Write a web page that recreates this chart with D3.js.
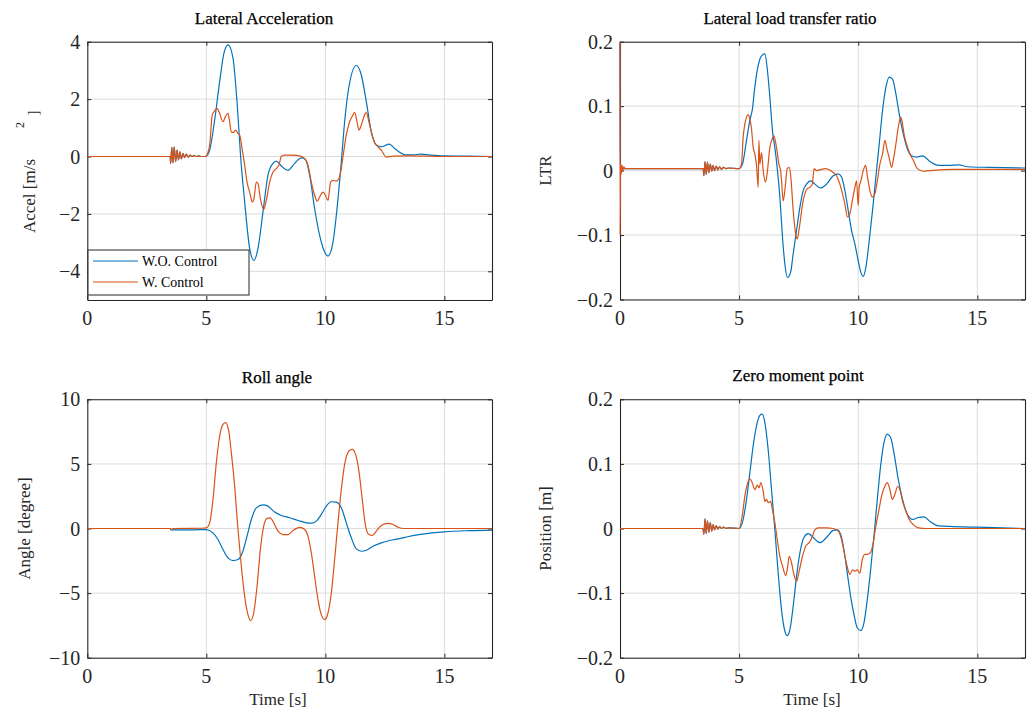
<!DOCTYPE html>
<html>
<head>
<meta charset="utf-8">
<script src="https://cdn.jsdelivr.net/npm/d3@7"></script>
<style>
  html, body { margin: 0; padding: 0; background: #fff; }
  svg { display: block; }
</style>
</head>
<body>
<svg id="chart" width="1034" height="716"></svg>
<script>
// ---------------- DATA (time [s], value) ----------------
const seriesNames = ["W.O. Control", "W. Control"];
const xTicks = [0, 5, 10, 15];
const accelTicks = [-4, -2, 0, 2, 4];
const ltrTicks = [-0.2, -0.1, 0, 0.1, 0.2];
const rollTicks = [-10, -5, 0, 5, 10];
const zmpTicks = [-0.2, -0.1, 0, 0.1, 0.2];

// small start-up oscillation around t = 3.5 s
const accelOsc = [[3.48,0],[3.50,-0.25],[3.55,0.32],[3.60,-0.22],[3.65,0.34],[3.71,-0.18],[3.77,0.22],[3.83,-0.12],[3.89,0.16],[3.95,-0.08],[4.02,0.11],[4.09,-0.04],[4.16,0.08],[4.24,-0.02],[4.32,0.05],[4.40,0.0],[4.48,0.03],[4.58,0.0],[4.68,0.02],[4.80,0.0]];
const ltrOsc = [[3.49,0.003],[3.52,-0.008],[3.57,0.014],[3.62,-0.006],[3.67,0.013],[3.73,-0.003],[3.79,0.010],[3.85,-0.001],[3.91,0.008],[3.97,0.0],[4.04,0.007],[4.11,0.001],[4.18,0.006],[4.26,0.002],[4.34,0.005],[4.45,0.003],[4.55,0.004]];
const zmpOsc = [[3.48,0],[3.52,-0.009],[3.57,0.015],[3.62,-0.008],[3.67,0.012],[3.73,-0.006],[3.79,0.009],[3.85,-0.004],[3.91,0.006],[3.97,-0.002],[4.04,0.004],[4.11,-0.001],[4.18,0.003],[4.26,0.0],[4.34,0.002],[4.45,0.0],[4.55,0.001]];

const accelWO = [[0,0],...accelOsc,[4.95,0],[5.0,0.01],[5.14,0.22],[5.35,1.27],[5.56,2.61],[5.74,3.6],[5.91,3.89],[6.12,3.43],[6.29,1.9],[6.44,0],[6.61,-1.58],[6.82,-3.2],[7.0,-3.62],[7.17,-3.2],[7.38,-1.93],[7.59,-0.65],[7.8,-0.24],[7.94,-0.16],[8.15,-0.33],[8.43,-0.48],[8.71,-0.24],[8.99,-0.05],[9.16,-0.1],[9.34,-0.65],[9.55,-1.82],[9.76,-2.75],[9.93,-3.25],[10.11,-3.47],[10.32,-2.98],[10.49,-1.82],[10.67,-0.19],[10.81,1.21],[10.98,2.38],[11.3,3.17],[11.51,2.84],[11.72,1.91],[11.93,0.86],[12.14,0.4],[12.35,0.34],[12.68,0.43],[12.91,0.28],[13.1,0.16],[13.35,0.06],[13.7,0.06],[14.0,0.08],[14.4,0.05],[15,0.02],[16,0.01],[17,0.0]];
const accelW = [[0,0],...accelOsc,[4.97,0],[5.05,0.1],[5.14,0.4],[5.25,1.45],[5.35,1.59],[5.45,1.68],[5.56,1.5],[5.7,1.21],[5.8,1.39],[5.91,1.5],[5.98,1.21],[6.05,0.84],[6.15,0.84],[6.23,0.92],[6.33,0.8],[6.4,0.75],[6.5,0.28],[6.61,-0.3],[6.71,-0.89],[6.82,-1.24],[6.93,-1.59],[7.0,-1.47],[7.1,-0.89],[7.17,-0.94],[7.27,-1.47],[7.41,-1.85],[7.52,-1.53],[7.66,-0.89],[7.8,-0.54],[7.94,-0.42],[8.05,-0.3],[8.15,0],[8.29,0.05],[8.64,0.05],[8.92,0.02],[9.13,-0.07],[9.27,-0.3],[9.41,-0.89],[9.55,-1.35],[9.66,-1.56],[9.76,-1.41],[9.9,-1.24],[10.0,-1.35],[10.11,-1.53],[10.22,-0.89],[10.32,-0.83],[10.46,-0.86],[10.57,-0.77],[10.67,-0.42],[10.77,0.16],[10.88,0.75],[11.02,1.21],[11.16,1.45],[11.23,1.54],[11.33,1.21],[11.41,0.92],[11.51,1.1],[11.65,1.45],[11.72,1.53],[11.83,1.21],[11.93,0.86],[12.07,0.49],[12.21,0.34],[12.35,0.22],[12.56,-0.02],[12.84,0.01],[13.5,0.02],[15,0.0],[17,0]];

const ltrWO = [[0,0.2],[0.008,0.003],...ltrOsc,[5.0,0.003],[5.14,0.01],[5.31,0.047],[5.45,0.078],[5.56,0.096],[5.66,0.13],[5.8,0.163],[5.94,0.178],[6.08,0.181],[6.19,0.155],[6.29,0.114],[6.4,0.062],[6.5,0.036],[6.61,0],[6.71,-0.041],[6.82,-0.103],[6.92,-0.145],[7.03,-0.166],[7.16,-0.158],[7.27,-0.129],[7.41,-0.093],[7.55,-0.057],[7.69,-0.031],[7.83,-0.021],[8.0,-0.016],[8.18,-0.021],[8.42,-0.027],[8.67,-0.021],[8.95,-0.008],[9.16,-0.005],[9.3,-0.01],[9.44,-0.031],[9.58,-0.062],[9.72,-0.093],[9.86,-0.114],[10.0,-0.14],[10.11,-0.158],[10.21,-0.164],[10.32,-0.15],[10.46,-0.109],[10.6,-0.062],[10.74,-0.01],[10.88,0.041],[11.02,0.093],[11.16,0.129],[11.3,0.145],[11.44,0.142],[11.58,0.119],[11.72,0.088],[11.89,0.057],[12.06,0.034],[12.24,0.023],[12.45,0.021],[12.7,0.023],[13.01,0.014],[13.36,0.008],[13.8,0.008],[14.2,0.009],[14.6,0.006],[15.5,0.005],[17,0.004]];
const ltrW = [[0,0.2],[0.004,-0.1],[0.02,0.01],[0.05,-0.006],[0.08,0.009],[0.12,0.0],[0.16,0.006],[0.22,0.003],...ltrOsc,[5.0,0.003],[5.1,0.01],[5.17,0.052],[5.24,0.072],[5.31,0.083],[5.38,0.087],[5.45,0.08],[5.52,0.065],[5.59,0.036],[5.66,0.026],[5.73,0.008],[5.8,-0.026],[5.83,0.047],[5.87,0.01],[5.94,0.028],[6.01,0],[6.11,-0.018],[6.19,0],[6.29,0.036],[6.39,0.049],[6.46,0.054],[6.57,0.036],[6.67,0.01],[6.74,0],[6.78,-0.016],[6.85,-0.047],[6.92,-0.031],[7.02,0.003],[7.1,0.005],[7.17,-0.01],[7.27,-0.062],[7.37,-0.098],[7.44,-0.106],[7.51,-0.093],[7.59,-0.072],[7.66,-0.052],[7.76,-0.036],[7.86,-0.028],[7.97,-0.026],[8.07,-0.021],[8.15,0.003],[8.25,0],[8.39,0.001],[8.6,0.003],[8.74,0.002],[8.95,-0.003],[9.09,-0.008],[9.23,-0.021],[9.34,-0.036],[9.44,-0.052],[9.55,-0.072],[9.65,-0.067],[9.75,-0.047],[9.86,-0.026],[9.93,-0.016],[10.0,-0.054],[10.04,-0.026],[10.11,-0.016],[10.21,0],[10.31,0.008],[10.39,-0.01],[10.49,-0.031],[10.59,-0.041],[10.7,-0.036],[10.8,-0.016],[10.91,0.01],[11.02,0.026],[11.12,0.047],[11.19,0.036],[11.29,0.021],[11.4,0.005],[11.47,0.016],[11.58,0.041],[11.68,0.067],[11.78,0.083],[11.85,0.075],[11.92,0.057],[12.03,0.041],[12.17,0.026],[12.31,0.016],[12.48,0.003],[12.73,-0.001],[13.01,0],[14,0.002],[17,0.002]];

const rollWO = [[0,0],[3.48,0],[3.52,-0.1],[4.5,-0.1],[5.0,-0.08],[5.28,-0.34],[5.49,-0.85],[5.7,-1.63],[5.91,-2.27],[6.12,-2.48],[6.33,-2.4],[6.51,-1.89],[6.71,-0.59],[6.89,0.7],[7.1,1.6],[7.38,1.83],[7.59,1.73],[7.87,1.27],[8.15,1.01],[8.5,0.83],[8.85,0.62],[9.2,0.44],[9.41,0.41],[9.62,0.57],[9.83,1.09],[10.04,1.73],[10.25,2.07],[10.46,2.04],[10.67,1.6],[10.88,0.44],[11.09,-0.72],[11.3,-1.58],[11.51,-1.76],[11.72,-1.68],[12.0,-1.37],[12.35,-1.11],[12.7,-0.93],[13.12,-0.78],[13.5,-0.62],[14,-0.46],[14.5,-0.34],[15,-0.26],[16,-0.17],[17,-0.12]];
const rollW = [[0,0],[3.48,0],[3.52,-0.1],[3.6,0.0],[4.8,0.02],[5.0,0.05],[5.14,0.44],[5.28,2.25],[5.42,5.09],[5.56,7.16],[5.7,8.06],[5.81,8.19],[5.94,7.55],[6.05,5.87],[6.19,3.28],[6.33,-0.08],[6.47,-2.92],[6.61,-5.25],[6.75,-6.67],[6.86,-7.13],[6.99,-6.54],[7.13,-4.47],[7.27,-1.63],[7.41,0.18],[7.55,0.78],[7.69,0.83],[7.83,0.44],[8.01,-0.21],[8.22,-0.47],[8.43,-0.47],[8.64,-0.16],[8.92,0.08],[9.13,-0.08],[9.27,-0.59],[9.41,-1.89],[9.55,-3.7],[9.69,-5.5],[9.83,-6.67],[9.97,-7.05],[10.11,-6.54],[10.25,-4.99],[10.39,-2.4],[10.53,0.44],[10.67,3.02],[10.81,4.96],[10.99,6.0],[11.13,6.12],[11.27,5.74],[11.41,4.44],[11.55,2.25],[11.69,0.18],[11.83,-0.47],[11.97,-0.54],[12.14,-0.21],[12.35,0.23],[12.63,0.39],[12.84,0.31],[13.05,0.1],[13.3,0.0],[17,0]];

const zmpWO = [[0,0],...zmpOsc,[5.0,0],[5.17,0.014],[5.31,0.045],[5.45,0.086],[5.59,0.128],[5.73,0.159],[5.87,0.175],[5.97,0.177],[6.08,0.164],[6.22,0.122],[6.36,0.06],[6.5,-0.002],[6.64,-0.069],[6.78,-0.126],[6.92,-0.159],[7.02,-0.166],[7.13,-0.157],[7.27,-0.12],[7.41,-0.074],[7.55,-0.038],[7.72,-0.014],[7.9,-0.008],[8.11,-0.014],[8.39,-0.022],[8.67,-0.014],[8.95,-0.003],[9.12,-0.002],[9.26,-0.009],[9.4,-0.033],[9.54,-0.069],[9.68,-0.105],[9.82,-0.133],[9.96,-0.154],[10.11,-0.158],[10.24,-0.146],[10.38,-0.11],[10.52,-0.064],[10.66,-0.012],[10.8,0.045],[10.94,0.097],[11.08,0.133],[11.22,0.146],[11.36,0.141],[11.5,0.117],[11.68,0.076],[11.86,0.045],[12.06,0.022],[12.28,0.014],[12.52,0.017],[12.76,0.018],[13.01,0.011],[13.36,0.004],[14.0,0.003],[15,0.002],[17,0]];
const zmpW = [[0,0],...zmpOsc,[5.0,0],[5.14,0.022],[5.24,0.05],[5.34,0.068],[5.45,0.077],[5.55,0.071],[5.66,0.06],[5.76,0.067],[5.84,0.063],[5.91,0.071],[6.01,0.058],[6.08,0.042],[6.15,0.045],[6.22,0.04],[6.32,0.042],[6.4,0.029],[6.5,0.009],[6.6,-0.017],[6.71,-0.043],[6.82,-0.058],[6.96,-0.073],[7.03,-0.061],[7.1,-0.043],[7.2,-0.053],[7.3,-0.071],[7.41,-0.082],[7.52,-0.066],[7.66,-0.043],[7.8,-0.027],[7.94,-0.022],[8.08,-0.012],[8.18,-0.002],[8.32,0.001],[8.67,0.001],[8.95,0],[9.16,-0.004],[9.3,-0.017],[9.44,-0.043],[9.55,-0.061],[9.65,-0.071],[9.76,-0.064],[9.86,-0.066],[9.96,-0.064],[10.07,-0.069],[10.17,-0.048],[10.28,-0.04],[10.39,-0.04],[10.52,-0.037],[10.63,-0.022],[10.74,0.004],[10.87,0.029],[10.98,0.05],[11.09,0.063],[11.22,0.071],[11.33,0.06],[11.43,0.045],[11.54,0.053],[11.65,0.065],[11.75,0.06],[11.86,0.042],[12.0,0.027],[12.14,0.014],[12.31,0.006],[12.52,0.001],[12.87,0],[17,0]];

// ---------------- DRAWING ----------------
const colors = ["#0072BD", "#D95319"];
const svg = d3.select("#chart");
const FONT = "'Liberation Serif', 'Times New Roman', serif";

const panels = [
  { title: "Lateral Acceleration", titleX: 264, titleY: 24, x0: 87.3, x1: 492, y0: 41.7, y1: 300,
    yDomain: [-5, 4], yTicks: accelTicks, data: [accelWO, accelW], xlabel: null, legend: true },
  { title: "Lateral load transfer ratio", titleX: 790, titleY: 24, x0: 620, x1: 1025, y0: 41.7, y1: 299.5,
    yDomain: [-0.2, 0.2], yTicks: ltrTicks, data: [ltrWO, ltrW], ylabel: "LTR", ylabelX: 551, xlabel: null },
  { title: "Roll angle", titleX: 277, titleY: 383, x0: 87.3, x1: 492, y0: 399.3, y1: 657.7,
    yDomain: [-10, 10], yTicks: rollTicks, data: [rollWO, rollW], ylabel: "Angle [degree]", ylabelX: 30, xlabel: "Time [s]", xlabelX: 278 },
  { title: "Zero moment point", titleX: 798, titleY: 381, x0: 620, x1: 1025, y0: 399.3, y1: 657.7,
    yDomain: [-0.2, 0.2], yTicks: zmpTicks, data: [zmpWO, zmpW], ylabel: "Position [m]", ylabelX: 551, xlabel: "Time [s]", xlabelX: 812 }
];

const fmt = d => d < 0 ? "\u2212" + Math.abs(d) : String(d);

panels.forEach((p, pi) => {
  const x = d3.scaleLinear().domain([0, 17]).range([p.x0, p.x1]);
  const y = d3.scaleLinear().domain(p.yDomain).range([p.y1, p.y0]);
  const g = svg.append("g");
  const clipId = "clip" + pi;
  svg.append("clipPath").attr("id", clipId).append("rect")
    .attr("x", p.x0 - 1.5).attr("y", p.y0 - 1.5).attr("width", p.x1 - p.x0 + 3).attr("height", p.y1 - p.y0 + 3);

  // grid
  const grid = g.append("g");
  grid.selectAll(".gx").data(xTicks.filter(t => t > 0)).enter().append("line")
    .attr("x1", d => x(d)).attr("x2", d => x(d)).attr("y1", p.y0).attr("y2", p.y1)
    .attr("stroke", "#dcdcdc").attr("stroke-width", 1);
  grid.selectAll(".gy").data(p.yTicks).enter().append("line")
    .attr("x1", p.x0).attr("x2", p.x1).attr("y1", d => y(d)).attr("y2", d => y(d))
    .attr("stroke", "#dcdcdc").attr("stroke-width", 1);

  // axes with inward ticks on all four sides
  const axB = d3.axisBottom(x).tickValues(xTicks).tickSizeInner(-4).tickSizeOuter(0).tickFormat("");
  const axT = d3.axisTop(x).tickValues(xTicks).tickSizeInner(-4).tickSizeOuter(0).tickFormat("");
  const axL = d3.axisLeft(y).tickValues(p.yTicks).tickSizeInner(-4).tickSizeOuter(0).tickFormat("");
  const axR = d3.axisRight(y).tickValues(p.yTicks).tickSizeInner(-4).tickSizeOuter(0).tickFormat("");
  [[axB, `translate(0,${p.y1})`], [axT, `translate(0,${p.y0})`], [axL, `translate(${p.x0},0)`], [axR, `translate(${p.x1},0)`]]
    .forEach(([ax, tr]) => {
      const a = g.append("g").attr("transform", tr).call(ax);
      a.selectAll("path").attr("stroke", "#262626").attr("stroke-width", 1.1);
      a.selectAll("line").attr("stroke", "#262626").attr("stroke-width", 1);
    });

  // lines (drawn over the axes, as in the reference)
  const line = d3.line().x(d => x(d[0])).y(d => y(d[1])).curve(d3.curveMonotoneX);
  const lg = g.append("g").attr("clip-path", `url(#${clipId})`);
  p.data.forEach((s, i) => {
    lg.append("path").datum(s).attr("d", line).attr("fill", "none")
      .attr("stroke", colors[i]).attr("stroke-width", 1.2).attr("stroke-linejoin", "round");
  });

  // tick labels
  g.selectAll(".xtl").data(xTicks).enter().append("text")
    .attr("x", d => x(d)).attr("y", p.y1 + 25).attr("text-anchor", "middle")
    .attr("font-family", FONT).attr("font-size", 20).attr("fill", "#262626").text(fmt);
  g.selectAll(".ytl").data(p.yTicks).enter().append("text")
    .attr("x", p.x0 - 7).attr("y", d => y(d)).attr("dy", "0.35em").attr("text-anchor", "end")
    .attr("font-family", FONT).attr("font-size", 20).attr("fill", "#262626").text(fmt);

  // title
  g.append("text").attr("x", p.titleX).attr("y", p.titleY).attr("text-anchor", "middle")
    .attr("font-family", FONT).attr("font-size", 17).attr("fill", "#000")
    .attr("stroke", "#000").attr("stroke-width", 0.25).text(p.title);

  // y label
  if (p.ylabel) {
    const cy = (p.y0 + p.y1) / 2;
    g.append("text").attr("transform", `translate(${p.ylabelX},${cy}) rotate(-90)`)
      .attr("text-anchor", "middle").attr("font-family", FONT).attr("font-size", 17)
      .attr("fill", "#262626").text(p.ylabel);
  }
  if (p.xlabel) {
    g.append("text").attr("x", p.xlabelX).attr("y", p.y1 + 47).attr("text-anchor", "middle")
      .attr("font-family", FONT).attr("font-size", 17).attr("fill", "#262626").text(p.xlabel);
  }

  if (p.legend) {
    const L = g.append("g");
    L.append("rect").attr("x", 88).attr("y", 250).attr("width", 161).attr("height", 45)
      .attr("fill", "#fff").attr("stroke", "#262626").attr("stroke-width", 1);
    seriesNames.forEach((n, i) => {
      const ly = 261 + i * 21;
      L.append("line").attr("x1", 93).attr("x2", 138).attr("y1", ly).attr("y2", ly)
        .attr("stroke", colors[i]).attr("stroke-width", 1.2);
      L.append("text").attr("x", 142).attr("y", ly).attr("dy", "0.35em")
        .attr("font-family", FONT).attr("font-size", 14).attr("fill", "#000").text(n);
    });
  }
});

// Accel y-label with the (mis-rendered) superscript as in the reference
svg.append("text").attr("transform", "translate(35,196) rotate(-90)")
  .attr("text-anchor", "middle").attr("font-family", FONT).attr("font-size", 17)
  .attr("fill", "#262626").text("Accel [m/s");
svg.append("text").attr("transform", "translate(24,125) rotate(-90)")
  .attr("text-anchor", "middle").attr("font-family", FONT).attr("font-size", 12)
  .attr("fill", "#262626").text("2");
svg.append("text").attr("transform", "translate(38,113) rotate(-90)")
  .attr("text-anchor", "middle").attr("font-family", FONT).attr("font-size", 15)
  .attr("fill", "#262626").text("]");
</script>
</body>
</html>
